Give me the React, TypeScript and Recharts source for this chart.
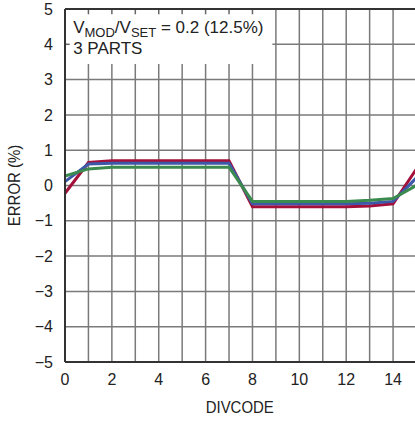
import React from "react";
import {
  LineChart,
  Line,
  XAxis,
  YAxis,
  CartesianGrid,
  ReferenceArea,
  ReferenceLine,
  Label,
} from "recharts";

const divcodes = [0, 1, 2, 3, 4, 5, 6, 7, 8, 9, 10, 11, 12, 13, 14, 15];
const part1Error = [-0.22, 0.65, 0.7, 0.7, 0.7, 0.7, 0.7, 0.7, -0.6, -0.6, -0.6, -0.6, -0.6, -0.58, -0.52, 0.47];
const part2Error = [0.11, 0.61, 0.63, 0.63, 0.63, 0.63, 0.63, 0.63, -0.52, -0.52, -0.52, -0.52, -0.52, -0.5, -0.45, 0.22];
const part3Error = [0.27, 0.47, 0.52, 0.52, 0.52, 0.52, 0.52, 0.52, -0.45, -0.45, -0.45, -0.45, -0.45, -0.42, -0.37, 0.0];
const xTicks = divcodes;
const yTicks = [-5, -4, -3, -2, -1, 0, 1, 2, 3, 4, 5];
// minor tick marks left visible inside the note box
const boxTopTicks = [1, 2, 3, 4, 5, 6, 7, 8];
const boxLeftTicks = [4];

const data = divcodes.map((d, i) => ({
  divcode: d,
  p1: part1Error[i],
  p2: part2Error[i],
  p3: part3Error[i],
}));

const FONT = "'Liberation Sans', Arial, sans-serif";
const axisStyle = { stroke: "#333", strokeWidth: 2 };
const NARROW = 0.88;

const fmtY = (v: number) => (v < 0 ? `\u2212${-v}` : `${v}`);
const fmtX = (v: number) => (v % 2 === 0 && v < 15 ? `${v}` : "");

const renderNote = (props: any) => {
  const { x, y } = props.viewBox;
  return (
    <text x={x + 7} y={y + 24} fontSize={17} fill="#222" fontFamily={FONT}>
      <tspan>V</tspan>
      <tspan fontSize={13} dy={4}>MOD</tspan>
      <tspan dy={-4}>/V</tspan>
      <tspan fontSize={13} dy={4}>SET</tspan>
      <tspan dy={-4}> = 0.2 (12.5%)</tspan>
      <tspan x={x + 7} dy={21}>3 PARTS</tspan>
    </text>
  );
};

const renderYLabel = (props: any) => {
  const { x, y, height } = props.viewBox;
  const cx = x + 14;
  const cy = y + height / 2;
  return (
    <text
      transform={`translate(${cx} ${cy}) rotate(-90) scale(${NARROW} 1)`}
      textAnchor="middle"
      dominantBaseline="central"
      fontSize={17}
      fill="#222"
      fontFamily={FONT}
    >
      ERROR (%)
    </text>
  );
};

const renderXLabel = (props: any) => {
  const { x, y, width, height } = props.viewBox;
  const cx = x + width / 2 - 1;
  const by = y + height - 8;
  return (
    <text
      transform={`translate(${cx} ${by}) scale(${NARROW} 1)`}
      textAnchor="middle"
      fontSize={17}
      fill="#222"
      fontFamily={FONT}
    >
      DIVCODE
    </text>
  );
};

export default function App() {
  return (
    <div
      style={{
        position: "absolute",
        left: 0,
        top: 0,
        width: 415,
        height: 421,
        overflow: "hidden",
        background: "#fff",
        fontFamily: FONT,
      }}
    >
      <LineChart
        width={420}
        height={421}
        data={data}
        margin={{ top: 9, right: 3.5, bottom: 0, left: 0 }}
      >
        <CartesianGrid stroke="#7a7a7a" strokeWidth={1.5} />
        <XAxis
          dataKey="divcode"
          type="number"
          domain={[0, 15]}
          ticks={xTicks}
          tickFormatter={fmtX}
          height={59}
          tickSize={0}
          tickMargin={12}
          tick={{ fill: "#222", fontSize: 16 }}
          axisLine={axisStyle}
          interval={0}
        >
          <Label content={renderXLabel} />
        </XAxis>
        <YAxis
          type="number"
          domain={[-5, 5]}
          ticks={yTicks}
          tickFormatter={fmtY}
          width={65}
          tickSize={0}
          tickMargin={12}
          tick={{ fill: "#222", fontSize: 16 }}
          axisLine={axisStyle}
          interval={0}
        >
          <Label content={renderYLabel} />
        </YAxis>
        <ReferenceArea x1={0.05} x2={8.85} y1={3.44} y2={5} fill="#fff" fillOpacity={1} stroke="none">
          <Label content={renderNote} />
        </ReferenceArea>
        {boxTopTicks.map((t) => (
          <ReferenceLine
            key={`tt${t}`}
            segment={[{ x: t, y: 5 }, { x: t, y: 4.85 }]}
            stroke="#666"
            strokeWidth={1.5}
          />
        ))}
        {boxLeftTicks.map((t) => (
          <ReferenceLine
            key={`lt${t}`}
            segment={[{ x: 0, y: t }, { x: 0.2, y: t }]}
            stroke="#666"
            strokeWidth={1.5}
          />
        ))}
        <ReferenceLine y={5} stroke="#333" strokeWidth={2} />
        <Line type="linear" dataKey="p1" stroke="#a3103a" strokeWidth={3} dot={false} isAnimationActive={false} />
        <Line type="linear" dataKey="p2" stroke="#3d58a8" strokeWidth={3} dot={false} isAnimationActive={false} />
        <Line type="linear" dataKey="p3" stroke="#3c8b4e" strokeWidth={3} dot={false} isAnimationActive={false} />
      </LineChart>
    </div>
  );
}
